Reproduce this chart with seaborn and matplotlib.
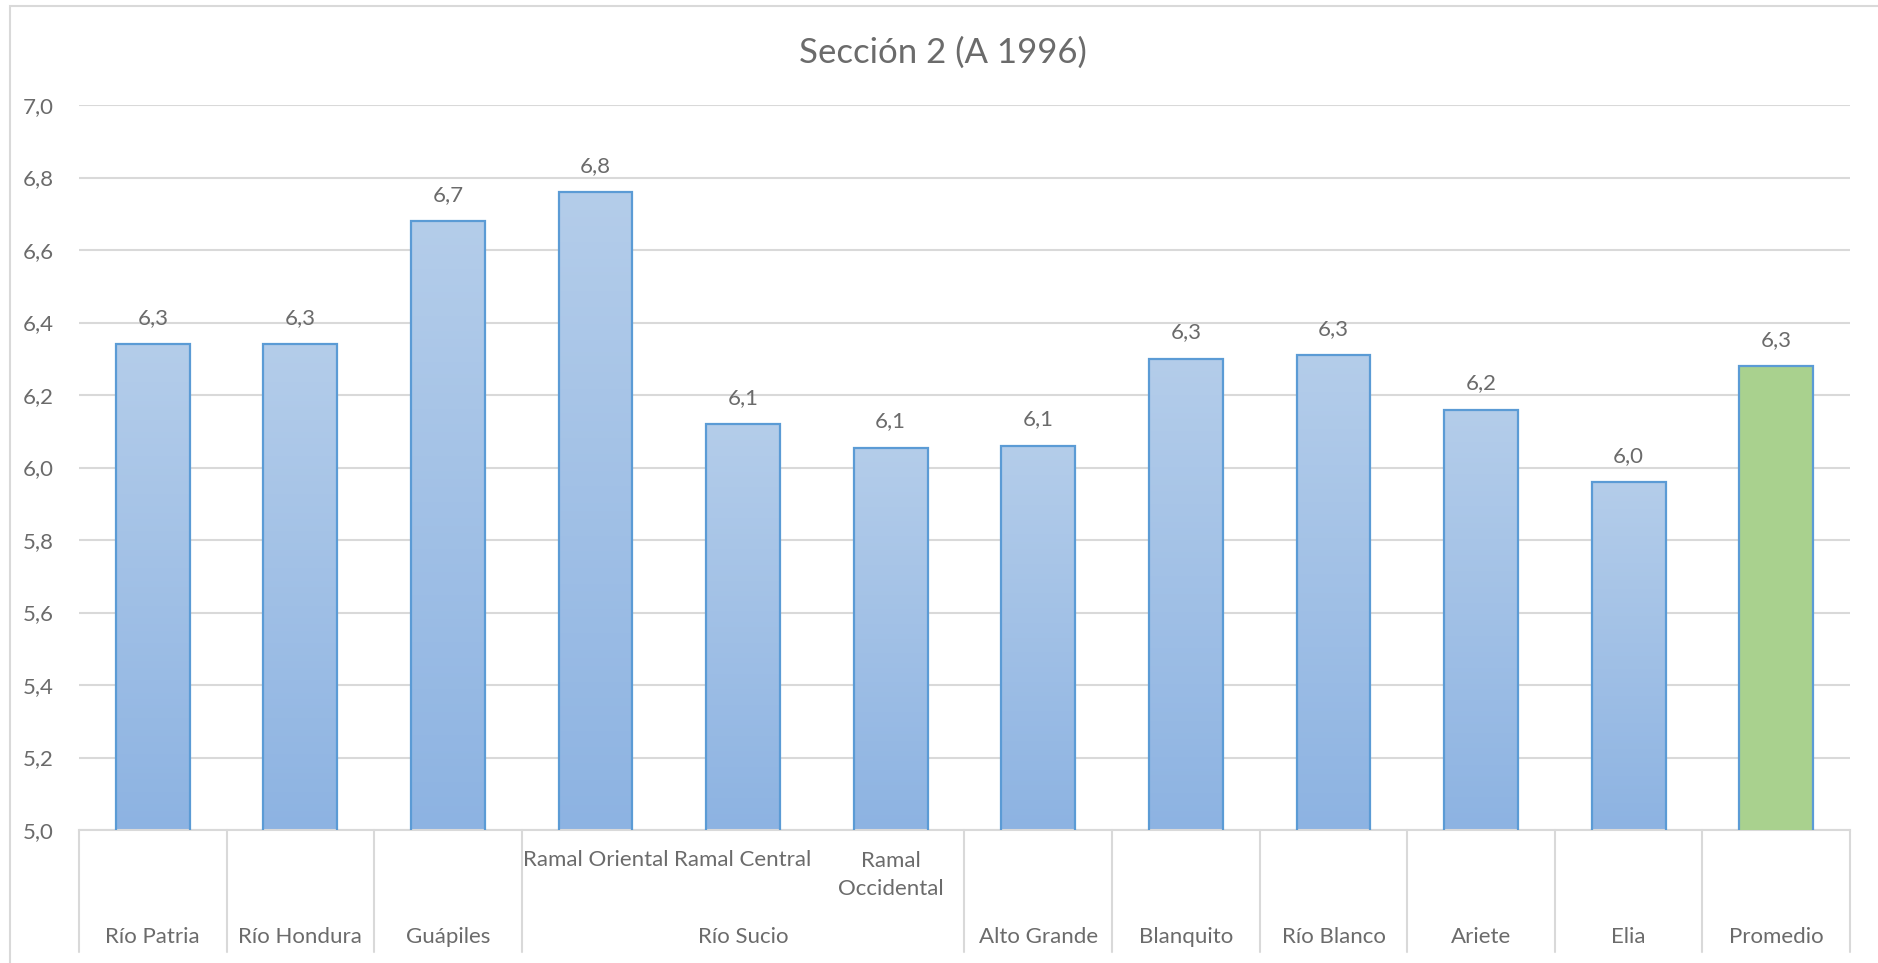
import numpy as np
import pandas as pd
import matplotlib
matplotlib.use("Agg")
import matplotlib.pyplot as plt
import matplotlib.transforms as mtransforms
from matplotlib.colors import LinearSegmentedColormap
import seaborn as sns

# Datos: pH promedio por cuenca, Sección 2 (A 1996)
categorias = ["Río Patria", "Río Hondura", "Guápiles", "Ramal Oriental",
              "Ramal Central", "Ramal Occidental", "Alto Grande", "Blanquito",
              "Río Blanco", "Ariete", "Elia", "Promedio"]
etiquetas_internas = ["", "", "", "Ramal Oriental", "Ramal Central",
                      "Ramal\nOccidental", "", "", "", "", "", ""]
grupos = ["Río Patria", "Río Hondura", "Guápiles", "Río Sucio", "Río Sucio",
          "Río Sucio", "Alto Grande", "Blanquito", "Río Blanco", "Ariete",
          "Elia", "Promedio"]
valores = [6.34, 6.34, 6.68, 6.76, 6.12, 6.055, 6.06, 6.30, 6.31, 6.16, 5.96, 6.28]

titulo = "Sección 2 (A 1996)"

sns.set_theme(style="white")
plt.rcParams["font.family"] = ["Lato", "DejaVu Sans"]

GRIS = "#6B6B6B"
AZUL_BORDE = "#5B9BD5"
VERDE = "#A9D18E"
FS = 16

fig = plt.figure(figsize=(18.78, 9.63), dpi=100)
ax = fig.add_axes([79 / 1878, 1 - 830 / 963, (1850 - 79) / 1878, (830 - 105) / 963])

df = pd.DataFrame({"categoria": categorias, "valor": valores})
paleta = ["#A3C2E6"] * (len(categorias) - 1) + [VERDE]
sns.barplot(data=df, x="categoria", y="valor", hue="categoria", palette=paleta,
            legend=False, width=0.5, ax=ax, edgecolor=AZUL_BORDE, linewidth=1.6,
            saturation=1)

YMIN, YMAX = 5.0, 7.0

# Relleno degradado para las barras azules (parte visible sobre el eje)
degradado = LinearSegmentedColormap.from_list("deg", ["#8DB3E2", "#B4CDEA"])
grad = np.linspace(0, 1, 256).reshape(-1, 1)
for i, p in enumerate(ax.patches):
    p.set_zorder(3)
    if categorias[i] == "Promedio":
        continue
    x0, w = p.get_x(), p.get_width()
    y_top = p.get_y() + p.get_height()
    y_bot = max(p.get_y(), YMIN)
    p.set_facecolor("none")
    im = ax.imshow(grad, cmap=degradado, aspect="auto", origin="lower",
                   extent=(x0, x0 + w, y_bot, y_top), zorder=2)
    im.set_clip_path(p)

ax.set_ylim(YMIN, YMAX)
ax.set_xlim(-0.5, len(categorias) - 0.5)

# Etiquetas de valor
for i, v in enumerate(valores):
    ax.annotate(f"{v:.1f}".replace(".", ","), xy=(i, v), xytext=(0, 19),
                textcoords="offset points", ha="center", va="center",
                fontsize=FS, color=GRIS)

# Eje Y
yticks = np.arange(YMIN, YMAX + 0.01, 0.2)
ax.set_yticks(yticks)
ax.set_yticklabels([f"{t:.1f}".replace(".", ",") for t in yticks],
                   fontsize=FS, color=GRIS)
ax.tick_params(axis="y", length=0, pad=18)
ax.yaxis.grid(True, color="#D9D9D9", linewidth=1.5)
ax.set_axisbelow(True)
for s in ["top", "right", "left"]:
    ax.spines[s].set_visible(False)
ax.spines["bottom"].set_color("#D9D9D9")
ax.spines["bottom"].set_linewidth(1.5)

# Eje de categorías de dos niveles
ax.set_xticks([])
ax.set_xlabel("")
ax.set_ylabel("")
trans = mtransforms.blended_transform_factory(ax.transData, ax.transAxes)
alto_ax = 830 - 105
fila_int = -(860 - 830) / alto_ax
fila_ext = -(937 - 830) / alto_ax
fondo = -(952 - 830) / alto_ax

for i, t in enumerate(etiquetas_internas):
    if t:
        yy = fila_int if "\n" not in t else -(875 - 830) / alto_ax
        ax.text(i, yy, t, transform=trans, ha="center", va="center",
                fontsize=FS, color=GRIS, linespacing=1.45)

# Agrupar categorías consecutivas con el mismo grupo
bloques = []
inicio = 0
for i in range(1, len(grupos) + 1):
    if i == len(grupos) or grupos[i] != grupos[inicio]:
        bloques.append((grupos[inicio], inicio, i - 1))
        inicio = i
for nombre, a, b in bloques:
    ax.text((a + b) / 2, fila_ext, nombre, transform=trans, ha="center",
            va="center", fontsize=FS, color=GRIS)
    ax.plot([a - 0.5, a - 0.5], [0, fondo], transform=trans, color="#D9D9D9",
            lw=1.5, clip_on=False)
ax.plot([len(grupos) - 0.5] * 2, [0, fondo], transform=trans, color="#D9D9D9",
        lw=1.5, clip_on=False)

fig.suptitle(titulo, x=943 / 1878, y=1 - 53 / 963, va="center",
             fontsize=25, color=GRIS)

# Borde del área del gráfico
fig.add_artist(plt.Rectangle((10 / 1878, -0.05), 1.2, 1 - 6 / 963 + 0.05,
                             transform=fig.transFigure, fill=False,
                             edgecolor="#D9D9D9", linewidth=1.5))

fig.savefig("out.png", dpi=100, facecolor="white")
